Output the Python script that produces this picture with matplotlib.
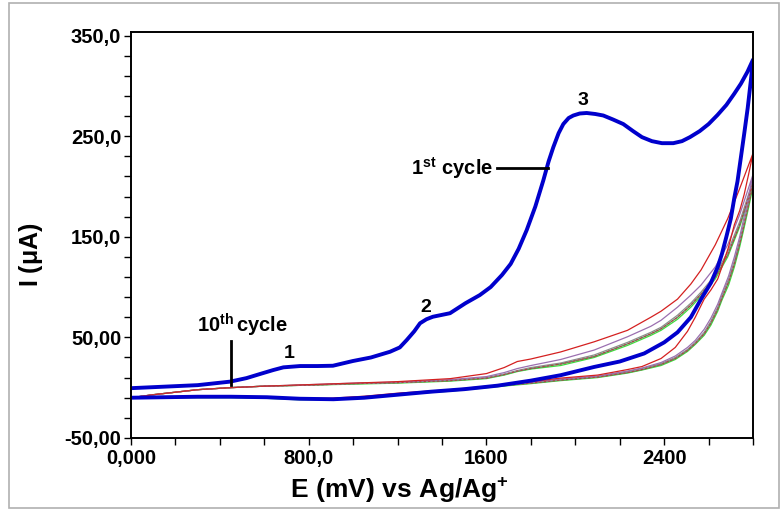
import matplotlib
matplotlib.use("Agg")
import matplotlib.pyplot as plt
from matplotlib.patches import Rectangle

plt.rcParams['font.family'] = ['Liberation Sans', 'DejaVu Sans']
plt.rcParams['font.weight'] = 'bold'
plt.rcParams['mathtext.fontset'] = 'custom'
plt.rcParams['mathtext.rm'] = 'Liberation Sans:bold'
plt.rcParams['mathtext.bf'] = 'Liberation Sans:bold'
plt.rcParams['mathtext.it'] = 'Liberation Sans:bold'

# ---- 1st cycle (thick blue), forward scan
e_first_fwd = [0, 150, 300, 446, 520, 581, 640, 686, 761, 840, 909, 999, 1080, 1166,
               1210, 1241, 1275, 1301, 1330, 1359, 1436, 1506, 1570, 1619, 1670, 1709,
               1745, 1781, 1820, 1856, 1880, 1901, 1925, 1946, 1970, 1991, 2020, 2051,
               2090, 2126, 2170, 2216, 2260, 2300, 2345, 2390, 2441, 2480, 2516, 2560,
               2600, 2640, 2680, 2715, 2745, 2775, 2800]
i_first_fwd = [-0.5, 1, 2.5, 6, 9.5, 13.6, 17.5, 20.2, 21.5, 21.5, 21.8, 26.5, 30, 35.7,
               40, 47.3, 56, 64, 68, 70.5, 74, 84, 92, 100, 112, 123,
               138, 156.5, 180, 206, 225, 239, 253, 262, 268, 270.5, 272.5, 273,
               272, 270.5, 266.5, 262, 255, 249, 245, 243, 243, 245, 249, 255,
               262, 271, 281, 292, 302, 314, 326]
# reverse scan
e_first_rev = [2800, 2790, 2776, 2760, 2746, 2730, 2716, 2700, 2680, 2660, 2641, 2610,
               2566, 2520, 2460, 2400, 2310, 2200, 2085, 1934, 1800, 1650, 1500, 1350,
               1200, 1050, 911, 760, 612, 450, 300, 150, 0]
i_first_rev = [326, 305, 278, 252, 230, 205, 189, 168, 150, 133, 120, 104,
               88, 70, 55, 45, 34, 26, 20.6, 12.4, 7, 2, -1.5, -4,
               -7, -10, -11.5, -11, -9.5, -9, -9, -9.5, -10]

# ---- later cycles (thin lines), forward branch
e_fwd = [0, 100, 200, 300, 446, 600, 800, 1000, 1200, 1438, 1600, 1680, 1739, 1800,
         1934, 2085, 2235, 2340, 2386, 2460, 2520, 2566, 2630, 2686, 2740, 2800]
i_red_fwd = [-10, -7, -4.5, -2, 0, 1.5, 3, 4.5, 6, 9, 14, 20, 26, 28.5,
             35.5, 45.6, 57, 70, 76, 88, 103, 117, 142, 168, 198, 233]
i_purple_fwd = [-10, -7, -4.5, -2, 0, 1.5, 3, 4.5, 5.5, 8, 11, 15, 19, 22,
                28, 37.4, 50.6, 61, 67, 80, 92, 102, 120, 142, 172, 212]
i_gray_fwd = [-10, -7, -4.5, -2, 0, 1.5, 2.5, 4, 5, 7.5, 10, 13.5, 17, 20,
              24.5, 32.5, 45, 55, 60, 72, 84, 95, 112, 135, 165, 206]
i_olive_fwd = [-10, -7, -4.5, -2, 0, 1.5, 2.5, 4, 5, 7, 9.5, 13, 16.5, 19,
               23.5, 31, 43.5, 53.5, 58.5, 70, 82, 93, 110, 132, 162, 203]
i_green_fwd = [-10, -7, -4.5, -2, 0, 1.5, 2.5, 3.5, 4.5, 6.5, 9, 12.5, 16, 18.5,
               22, 30, 42, 52, 57, 68, 80, 91, 108, 130, 160, 200]

# reverse branch
e_rev = [2800, 2780, 2760, 2740, 2716, 2690, 2660, 2641, 2610, 2580, 2540, 2505,
         2450, 2386, 2300, 2235, 2100, 1934, 1800, 1650, 1438, 1300, 1200, 1050,
         900, 750, 600, 450, 300, 150, 0]
i_red_rev = [233, 212, 192, 176, 162, 140, 120, 108, 97, 88, 70, 56,
             40, 29, 21, 18, 12.5, 9.5, 6, 2.5, -2, -4, -5.5, -8.5,
             -10.5, -10.5, -9.5, -9, -9, -9.5, -10]
i_purple_rev = [212, 190, 170, 150, 130, 111, 94, 83, 69, 58, 47, 40,
                31.5, 25, 19.5, 16.5, 11.5, 8.5, 5.5, 2, -2.5, -4.5, -6, -9,
                -11, -11, -9.5, -9, -9, -9.5, -10]
i_gray_rev = [206, 185, 165, 146, 126, 108, 92, 80, 66, 55, 45, 38,
              30, 24, 19, 16, 11, 8, 5, 2, -2.5, -4.5, -6, -9,
              -11, -11, -9.5, -9, -9, -9.5, -10]
i_olive_rev = [203, 182, 162, 143, 123, 105, 89, 78, 64, 53.5, 44, 37,
               29, 23, 18, 15, 10.5, 7.5, 4.5, 1.5, -3, -5, -6.5, -9.5,
               -11.5, -11.5, -10, -9.5, -9.5, -10, -10]
i_green_rev = [200, 179, 159, 140, 120, 102, 87, 76, 62, 52, 43, 36,
               28, 22, 17.5, 14.5, 10, 7, 4, 1, -3.5, -5.5, -7, -10,
               -12, -12, -10.5, -10, -10, -10, -10]

thin_curves = [
    (i_green_fwd, i_green_rev, '#3ddc3d'),
    (i_olive_fwd, i_olive_rev, '#6a7f5a'),
    (i_gray_fwd, i_gray_rev, '#8c8c8c'),
    (i_purple_fwd, i_purple_rev, '#9b6fb0'),
    (i_red_fwd, i_red_rev, '#d42020'),
]

fig = plt.figure(figsize=(7.81, 5.11), dpi=100)
ax = fig.add_axes([0.1677, 0.1429, 0.7965, 0.7935])

for fwd, rev, col in thin_curves:
    ax.plot(e_fwd + e_rev, fwd + rev, color=col, lw=0.9)
# dashed dark-red trace inside the bundle
ax.plot(e_fwd + e_rev, i_olive_fwd + i_olive_rev, color='#b04040', lw=0.8, ls=(0, (2, 2)))

ax.plot(e_first_fwd + e_first_rev, i_first_fwd + i_first_rev, color='#0000cc', lw=2.8)

ax.set_xlim(0, 2800)
ax.set_ylim(-50, 353)

ax.set_xticks([0, 800, 1600, 2400], ['0,000', '800,0', '1600', '2400'])
ax.set_xticks(range(0, 2801, 200), minor=True)
ax.set_yticks([-50, 50, 150, 250, 350], ['-50,00', '50,00', '150,0', '250,0', '350,0'])
ax.set_yticks(range(-50, 351, 20), minor=True)
ax.tick_params(which='both', direction='out', length=5, width=1, labelsize=14.5)
ax.tick_params(axis='x', pad=3)
ax.tick_params(axis='y', pad=2)
for lbl in ax.get_xticklabels() + ax.get_yticklabels():
    lbl.set_fontweight('bold')
for sp in ax.spines.values():
    sp.set_linewidth(1.4)

ax.set_xlabel(r'$\mathbf{E\ (mV)\ vs\ Ag/Ag^{+}}$', fontsize=19)
ax.xaxis.label.set_va('center')
ax.xaxis.set_label_coords(0.432, -0.128)
ax.set_ylabel(r'I ($\mathbf{\mu}$A)', fontsize=18, fontweight='bold')
ax.yaxis.label.set_va('center')
ax.yaxis.set_label_coords(-0.161, 0.452)

# peak labels
ax.text(2035, 285, '3', fontsize=14, fontweight='bold', ha='center', va='center')
ax.text(1328, 80, '2', fontsize=14, fontweight='bold', ha='center', va='center')
ax.text(711, 34, '1', fontsize=14, fontweight='bold', ha='center', va='center')

# cycle labels
ax.text(1630, 218, r'$\mathbf{1^{st}\ cycle}$', fontsize=14.5, ha='right', va='center')
ax.plot([1647, 1877], [218, 218], color='black', lw=2)
ax.text(500, 62, r'$\mathbf{10^{th}\,cycle}$', fontsize=14.5, ha='center', va='center')
ax.plot([450, 450], [46, 3], color='black', lw=2)

fig.patches.append(Rectangle((9 / 781, 3 / 511), 770 / 781, 505 / 511,
                             transform=fig.transFigure, fill=False,
                             edgecolor='#b0b0b0', lw=1.2))

fig.savefig('out.png', dpi=100)
